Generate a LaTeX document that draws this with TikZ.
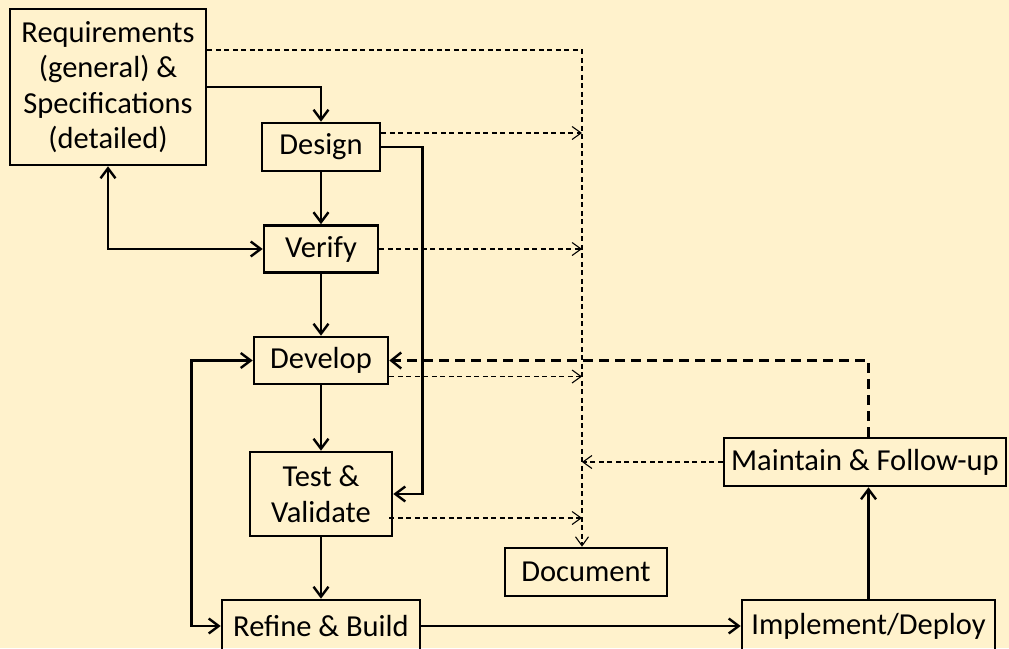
\documentclass[tikz,border=0pt]{standalone}
\usepackage{fontspec}
\setmainfont{Carlito}
\usetikzlibrary{arrows.meta}
\definecolor{bg}{HTML}{FFF2CC}
\tikzset{
  box/.style={draw=black, line width=2.6pt, inner sep=0pt, align=center,
    font=\fontsize{30.5}{35.5}\selectfont},
  solidarr/.style={line width=2.6pt, -{Straight Barb[length=10pt,width=15pt,line width=2.4pt]}},
  bothsolid/.style={line width=2.6pt, {Straight Barb[length=10pt,width=15pt,line width=2.4pt]}-{Straight Barb[length=10pt,width=15pt,line width=2.4pt]}},
  thindash/.style={line width=1.1pt, dash pattern=on 5pt off 3.5pt,
    -{Straight Barb[length=9pt,width=13pt,line width=1.1pt]}},
  thickdash/.style={line width=3pt, dash pattern=on 10pt off 6pt,
    -{Straight Barb[length=10pt,width=16pt,line width=2.4pt]}},
}
\begin{document}
\begin{tikzpicture}[x=1pt,y=-1pt]
\fill[bg] (0,0) rectangle (1009,648);
\useasboundingbox (0,0) rectangle (1009,648);
% nodes
\node[box, minimum width=196pt, minimum height=156pt] (req) at (108,87)
  {Requirements\\(general) \&\\Specifications\\(detailed)};
\node[box, minimum width=118pt, minimum height=48pt] (design) at (321,147) {Design};
\node[box, minimum width=114pt, minimum height=47pt] (verify) at (321,249) {Verify};
\node[box, minimum width=134pt, minimum height=47pt] (develop) at (321,360.5) {Develop};
\node[box, minimum width=142pt, minimum height=84pt] (test) at (321,494) {Test \&\\Validate};
\node[box, minimum width=198pt, minimum height=52pt] (refine) at (321,626) {Refine \& Build};
\node[box, minimum width=162pt, minimum height=48pt] (document) at (586,572) {Document};
\node[box, minimum width=282pt, minimum height=48pt] (maintain) at (865,462) {Maintain \& Follow-up};
\node[box, minimum width=253pt, minimum height=52pt] (implement) at (868.5,626) {Implement/Deploy};
\coordinate (col) at (582,50);
\coordinate (reqd) at ([yshift=37pt]req.east);
\coordinate (desd) at ([yshift=14pt]design.east);
\coordinate (devd) at ([yshift=-16pt]develop.east);
\coordinate (tesd) at ([xshift=-4pt,yshift=-24pt]test.east);
% solid connectors
\draw[solidarr] (req.east) -| (design.north);
\draw[solidarr] (design.south) -- (verify.north);
\draw[bothsolid] (req.south) |- (verify.west);
\draw[solidarr] (verify.south) -- (develop.north);
\draw[solidarr] (develop.south) -- (test.north);
\draw[solidarr] (test.south) -- (refine.north);
\draw[solidarr] (design.east) -- ++(41,0) |- (test.east);
\draw[bothsolid] (refine.west) -- ++(-29,0) |- (develop.west);
\draw[solidarr] (refine.east) -- (implement.west);
\draw[solidarr] (implement.north) -- (implement.north |- maintain.south);
% thick dashed feedback
\draw[thickdash] (implement.north |- maintain.north) |- (develop.east);
% thin dashed documentation lines
\draw[thindash] (reqd) -- (col) -- (col |- document.north);
\draw[thindash] (desd) -- (col |- desd);
\draw[thindash] (verify.east) -- (col |- verify.east);
\draw[thindash] (devd) -- (col |- devd);
\draw[thindash] (tesd) -- (col |- tesd);
\draw[thindash] (maintain.west) -- (col |- maintain.west);
\end{tikzpicture}
\end{document}
